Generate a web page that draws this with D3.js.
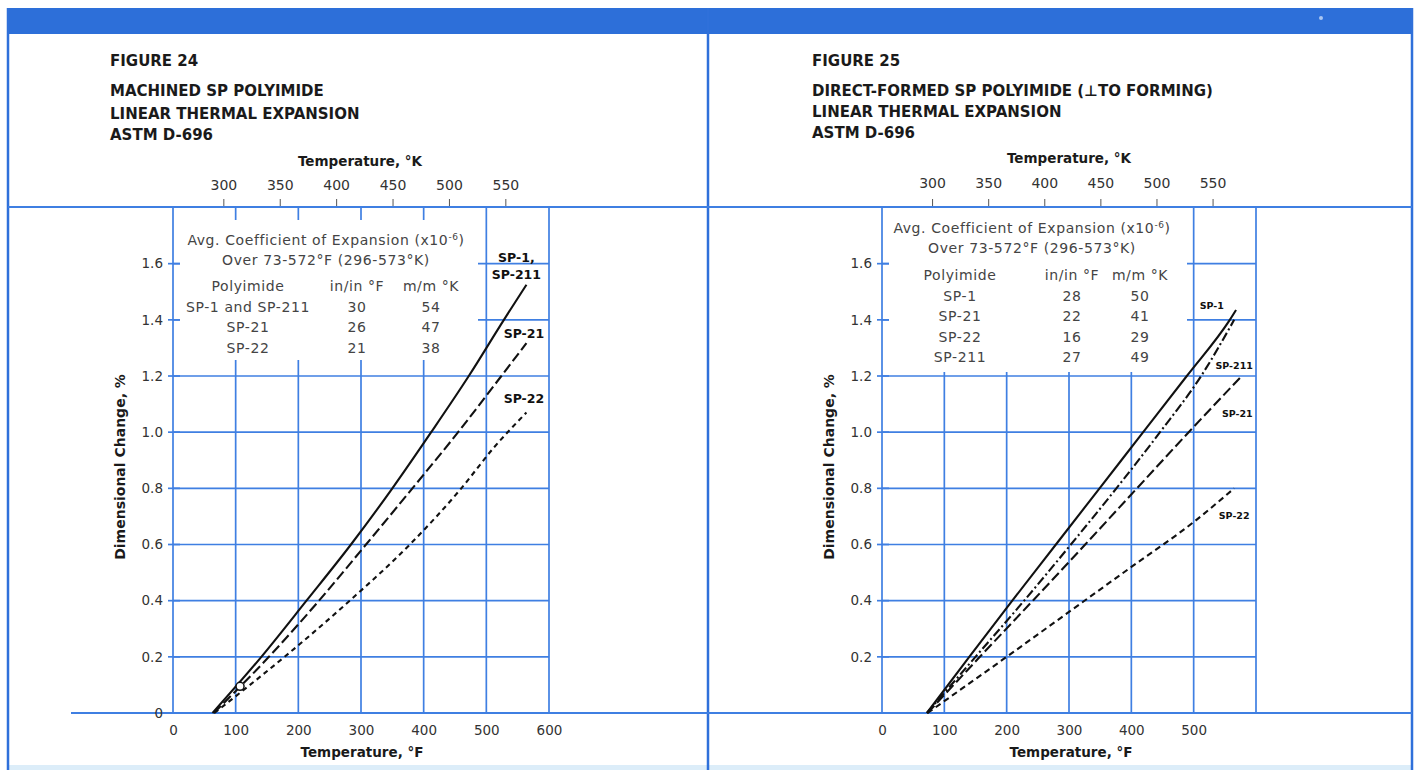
<!DOCTYPE html>
<html>
<head>
<meta charset="utf-8">
<script src="https://cdn.jsdelivr.net/npm/d3@7"></script>
<style>
body { margin: 0; background: #fff; }
svg text { font-family: "DejaVu Sans", "Liberation Sans", sans-serif; }
</style>
</head>
<body>
<svg id="chart" width="1418" height="770"></svg>
<script>
// ---- data ----
var kelvinTicks = [300, 350, 400, 450, 500, 550];
var fahrenheitGrid = [0, 100, 200, 300, 400, 500, 600];
var fig24FTicks = [0, 100, 200, 300, 400, 500, 600];
var fig25FTicks = [0, 100, 200, 300, 400, 500];
var pctGrid = [0.2, 0.4, 0.6, 0.8, 1.0, 1.2, 1.4, 1.6];
var fig24PctTicks = [0, 0.2, 0.4, 0.6, 0.8, 1.0, 1.2, 1.4, 1.6];
var fig25PctTicks = [0.2, 0.4, 0.6, 0.8, 1.0, 1.2, 1.4, 1.6];

var fig24Title = ["FIGURE 24", "MACHINED SP POLYIMIDE", "LINEAR THERMAL EXPANSION", "ASTM D-696"];
var fig25Title = ["FIGURE 25", "DIRECT-FORMED SP POLYIMIDE (\u22A5TO FORMING)", "LINEAR THERMAL EXPANSION", "ASTM D-696"];

var tableHead = ["Polyimide", "in/in \u00B0F", "m/m \u00B0K"];
var fig24Table = [["SP-1 and SP-211", 30, 54], ["SP-21", 26, 47], ["SP-22", 21, 38]];
var fig25Table = [["SP-1", 28, 50], ["SP-21", 22, 41], ["SP-22", 16, 29], ["SP-211", 27, 49]];

// [temperature °F, dimensional change %]
var fig24SP1 = [[63, 0], [141, 0.2], [213, 0.4], [284, 0.6], [350, 0.8], [412, 1.0], [472, 1.2], [528, 1.4], [564, 1.525]];
var fig24SP21 = [[65, 0], [153, 0.2], [233, 0.4], [308, 0.6], [382, 0.8], [455, 1.0], [524, 1.2], [564, 1.317]];
var fig24SP22 = [[66, 0], [178, 0.2], [282, 0.4], [378, 0.6], [460, 0.8], [512, 0.945], [564, 1.07]];
var fig24Marker = [[107, 0.095]];

var fig25SP1 = [[72, 0], [140, 0.2], [209, 0.4], [279, 0.6], [349, 0.8], [419, 1.0], [489, 1.2], [558, 1.4], [568, 1.435]];
var fig25SP211 = [[72, 0], [150, 0.2], [228, 0.4], [303, 0.6], [376, 0.8], [446, 1.0], [512, 1.2], [565, 1.4]];
var fig25SP21 = [[73, 0], [157, 0.2], [242, 0.4], [326, 0.6], [409, 0.8], [492, 1.0], [575, 1.195]];
var fig25SP22 = [[73, 0], [200, 0.2], [300, 0.36], [400, 0.52], [500, 0.68], [565, 0.8]];

var svg = d3.select("#chart");
var gridBlue = "#3f7fe2";
var frameBlue = "#2f70da";
var tableGrey = "#444";

function fToK(f) { return (f - 32) / 1.8 + 273.15; }
function pctFmt(d) { return d === 0 ? "0" : d3.format(".1f")(d); }

// page frame
svg.append("rect").attr("x", 7).attr("y", 8).attr("width", 1406).attr("height", 26).attr("fill", "#2d6fd9");
svg.append("circle").attr("cx", 1321).attr("cy", 18).attr("r", 2).attr("fill", "#a9c6f2");
svg.append("rect").attr("x", 7).attr("y", 765).attr("width", 1406).attr("height", 5).attr("fill", "#dcedf9");
[8, 708, 1412].forEach(function (fx) {
    svg.append("line").attr("x1", fx).attr("x2", fx).attr("y1", 8).attr("y2", 770)
        .attr("stroke", frameBlue).attr("stroke-width", 2.5);
});

function drawPanel(p) {
    var x = d3.scaleLinear().domain([0, 600]).range([p.left, p.right]);
    var y = d3.scaleLinear().domain([0, 1.8]).range([713, 207.5]);
    var xK = d3.scaleLinear().domain([fToK(0), fToK(600)]).range([p.left, p.right]);
    var g = svg.append("g");

    // titles
    g.selectAll(".ttl").data(p.title).enter().append("text")
        .attr("x", p.titleX).attr("y", function (d, i) { return p.titleY[i]; })
        .attr("font-size", 15).attr("font-weight", "bold").attr("fill", "#1a1a1a")
        .text(function (d) { return d; });

    // grid
    g.selectAll(".vg").data(fahrenheitGrid).enter().append("line")
        .attr("x1", x).attr("x2", x).attr("y1", y(0)).attr("y2", 207)
        .attr("stroke", gridBlue).attr("stroke-width", 1.7);
    g.selectAll(".hg").data(pctGrid).enter().append("line")
        .attr("x1", x(0)).attr("x2", x(600)).attr("y1", y).attr("y2", y)
        .attr("stroke", gridBlue).attr("stroke-width", 1.7);
    g.append("line").attr("x1", p.frameL).attr("x2", p.frameR).attr("y1", 207).attr("y2", 207)
        .attr("stroke", gridBlue).attr("stroke-width", 2);
    g.append("line").attr("x1", p.zeroL).attr("x2", p.frameR).attr("y1", y(0)).attr("y2", y(0))
        .attr("stroke", gridBlue).attr("stroke-width", 2);

    // white panel behind the coefficient table
    g.append("rect").attr("x", x(0) + 7).attr("y", p.boxTop)
        .attr("width", p.boxRight - x(0) - 7).attr("height", p.boxBottom - p.boxTop)
        .attr("fill", "#fff");
    g.selectAll(".yt").data(pctGrid).enter().append("line")
        .attr("x1", x(0) - 5).attr("x2", x(0) + 7).attr("y1", y).attr("y2", y)
        .attr("stroke", gridBlue).attr("stroke-width", 1.7);

    // top kelvin axis
    var ka = g.append("g").attr("transform", "translate(0,207)")
        .call(d3.axisTop(xK).tickValues(kelvinTicks).tickSize(8).tickPadding(8));
    ka.select(".domain").remove();
    ka.selectAll("line").attr("stroke", "#555").attr("y2", -8).attr("y1", -1);
    ka.selectAll("text").attr("font-family", "DejaVu Sans").attr("font-size", 14)
        .attr("fill", "#333").attr("y", p.kLabelY - 207).attr("dy", 0);
    g.append("text").attr("x", x(0) + 187).attr("y", p.kTitleY).attr("text-anchor", "middle")
        .attr("font-size", 13.5).attr("font-weight", "bold").attr("fill", "#1a1a1a")
        .text("Temperature, \u00B0K");

    // bottom fahrenheit axis
    var fa = g.append("g").attr("transform", "translate(0," + y(0) + ")")
        .call(d3.axisBottom(x).tickValues(p.fTicks).tickSize(0));
    fa.select(".domain").remove();
    fa.selectAll("text").attr("font-family", "DejaVu Sans").attr("font-size", 13.5)
        .attr("fill", "#333").attr("y", 22).attr("dy", 0);
    g.append("text").attr("x", x(0) + 189).attr("y", 757).attr("text-anchor", "middle")
        .attr("font-size", 13.5).attr("font-weight", "bold").attr("fill", "#1a1a1a")
        .text("Temperature, \u00B0F");

    // left percent axis
    var pa = g.append("g").attr("transform", "translate(" + x(0) + ",0)")
        .call(d3.axisLeft(y).tickValues(p.pctTicks).tickFormat(pctFmt).tickSize(0).tickPadding(10));
    pa.select(".domain").remove();
    pa.selectAll("text").attr("font-family", "DejaVu Sans").attr("font-size", 13.5).attr("fill", "#333");
    g.append("text").attr("transform", "translate(" + (x(0) - 48) + ",467) rotate(-90)")
        .attr("text-anchor", "middle").attr("font-size", 14).attr("font-weight", "bold")
        .attr("fill", "#1a1a1a").text("Dimensional Change, %");

    // coefficient table
    var t = p.table;
    var tg = g.append("g").attr("font-size", 14).attr("letter-spacing", 0.6).attr("fill", tableGrey);
    var tt = tg.append("text").attr("x", t.cx).attr("y", t.y0).attr("text-anchor", "middle");
    tt.append("tspan").text("Avg. Coefficient of Expansion (x10");
    tt.append("tspan").attr("dy", -5).attr("font-size", 9).text("-6");
    tt.append("tspan").attr("dy", 5).text(")");
    tg.append("text").attr("x", t.cx).attr("y", t.y0 + 20).attr("text-anchor", "middle")
        .text("Over 73-572\u00B0F (296-573\u00B0K)");
    tg.selectAll(".th").data(tableHead).enter().append("text")
        .attr("x", function (d, i) { return t.cols[i]; }).attr("y", t.yHead)
        .attr("text-anchor", "middle")
        .text(function (d) { return d; });
    p.rows.forEach(function (r, ri) {
        tg.selectAll(".tr" + ri).data(r).enter().append("text")
            .attr("x", function (d, i) { return t.cols[i]; })
            .attr("y", t.yHead + 20.5 * (ri + 1))
            .attr("text-anchor", "middle")
            .text(function (d) { return d; });
    });

    // curves
    var line = d3.line().x(function (d) { return x(d[0]); }).y(function (d) { return y(d[1]); })
        .curve(d3.curveMonotoneX);
    p.series.forEach(function (s) {
        g.append("path").datum(s.data).attr("d", line).attr("fill", "none")
            .attr("stroke", "#111").attr("stroke-width", 2.1)
            .attr("stroke-dasharray", s.dash);
        s.label.forEach(function (txt, i) {
            g.append("text").attr("x", x(s.lx)).attr("y", y(s.ly) + i * 17)
                .attr("text-anchor", "middle").attr("font-size", p.labelSize)
                .attr("font-weight", "bold").attr("fill", "#111").text(txt);
        });
    });
    if (p.marker) {
        g.selectAll(".mk").data(p.marker).enter().append("circle")
            .attr("cx", function (d) { return x(d[0]); }).attr("cy", function (d) { return y(d[1]); })
            .attr("r", 4).attr("fill", "#fff").attr("stroke", "#111").attr("stroke-width", 1.5);
    }
}

drawPanel({
    left: 173, right: 549, frameL: 8, frameR: 708, zeroL: 71,
    title: fig24Title, titleX: 110, titleY: [66, 96, 119, 140],
    kLabelY: 190, kTitleY: 166,
    fTicks: fig24FTicks, pctTicks: fig24PctTicks,
    boxTop: 220, boxBottom: 360, boxRight: 478,
    table: { cx: 326, y0: 245, yHead: 291, cols: [248, 357, 431] },
    rows: fig24Table,
    labelSize: 12.5,
    marker: fig24Marker,
    series: [
        { data: fig24SP1, dash: null, label: ["SP-1,", "SP-211"], lx: 548, ly: 1.607 },
        { data: fig24SP21, dash: "10,4", label: ["SP-21"], lx: 560, ly: 1.335 },
        { data: fig24SP22, dash: "5,4", label: ["SP-22"], lx: 560, ly: 1.103 }
    ]
});

drawPanel({
    left: 882, right: 1256, frameL: 708, frameR: 1412, zeroL: 708,
    title: fig25Title, titleX: 812, titleY: [66, 96, 117, 138],
    kLabelY: 188, kTitleY: 163,
    fTicks: fig25FTicks, pctTicks: fig25PctTicks,
    boxTop: 208, boxBottom: 372, boxRight: 1187,
    table: { cx: 1032, y0: 233, yHead: 280, cols: [960, 1072, 1140] },
    rows: fig25Table,
    labelSize: 9.5,
    series: [
        { data: fig25SP1, dash: null, label: ["SP-1"], lx: 529, ly: 1.437 },
        { data: fig25SP211, dash: "9,3,2,3", label: ["SP-211"], lx: 565, ly: 1.226 },
        { data: fig25SP21, dash: "10,4", label: ["SP-21"], lx: 570, ly: 1.055 },
        { data: fig25SP22, dash: "6,4", label: ["SP-22"], lx: 565, ly: 0.69 }
    ]
});
</script>
</body>
</html>
